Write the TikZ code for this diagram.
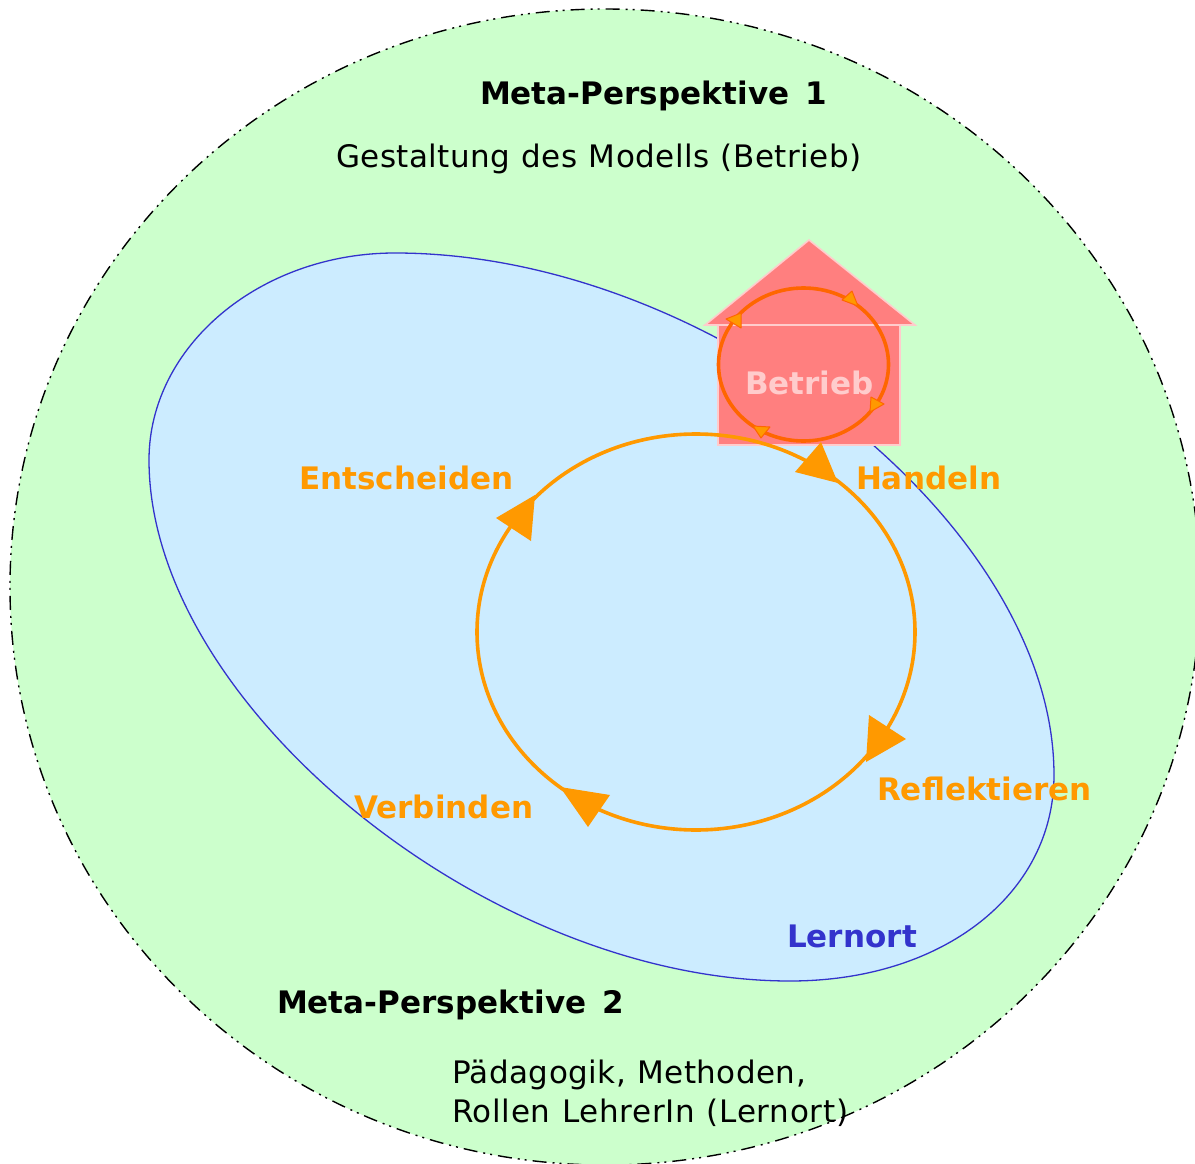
\documentclass[tikz,border=0pt]{standalone}
\usepackage{fontspec}
\setmainfont{DejaVu Sans}[LetterSpace=1.5,WordSpace=1.1,BoldFeatures={LetterSpace=0.2,WordSpace=1.45}]
\definecolor{outerfill}{HTML}{CCFFCC}
\definecolor{innerfill}{HTML}{CCECFF}
\definecolor{innerline}{HTML}{3333CC}
\definecolor{housefill}{HTML}{FF7F7F}
\definecolor{housepink}{HTML}{FFCCCC}
\definecolor{cycle}{HTML}{FF9900}
\definecolor{cycledark}{HTML}{FF6600}
\tikzset{
  outerring/.style={fill=outerfill,draw=black,line width=1.4pt,dash pattern=on 14pt off 6pt on 2pt off 5pt on 2pt off 6pt},
  innerring/.style={fill=innerfill,draw=innerline,line width=1.3pt},
  housepart/.style={fill=housefill,draw=housepink,line width=1.6pt,line join=miter},
  bigcycle/.style={draw=cycle,line width=3.6pt},
  smallcycle/.style={draw=cycledark,line width=3.6pt},
  bighead/.style={fill=cycle,draw=none},
  smallhead/.style={fill=cycle,draw=cycledark,line width=1pt,line join=round},
  lab/.style={anchor=base west,inner sep=0pt,outer sep=0pt},
  headbf/.style={lab,text=black,font=\fontsize{31}{36}\selectfont\bfseries},
  plain/.style={lab,text=black,font=\fontsize{31}{38.5}\selectfont},
  cyc/.style={lab,text=cycle,font=\fontsize{31}{36}\selectfont\bfseries}
}
\begin{document}
\begin{tikzpicture}[x=1pt,y=-1pt]
\useasboundingbox (0,0) rectangle (1195,1164);
\clip (0,0) rectangle (1195,1164);
\path[outerring] (605,587) ellipse [x radius=595,y radius=578];
\path[innerring] (149,460) .. controls (149,346) and (260,253) .. (395,253)
  .. controls (711,253) and (1054,524) .. (1054,775)
  .. controls (1054,894) and (943,981) .. (790,981)
  .. controls (489,981) and (149,705) .. (149,460) -- cycle;
\path[housepart] (718,325) rectangle (900,445);
\path[housepart] (809,240) -- (915,325) -- (705,325) -- cycle;
\node[lab,text=housepink,font=\fontsize{31}{36}\selectfont\bfseries] (betrieb) at (745,394) {Betrieb};
\draw[smallcycle] (803.5,364.5) ellipse [x radius=85,y radius=76.5];
\draw[bigcycle] (696,632) ellipse [x radius=219,y radius=198];
\path[bighead] (821,442) -- (795,472) -- (838,483) -- cycle;
\path[bighead] (535,495) -- (496,518) -- (531,541) -- cycle;
\path[bighead] (869,715) -- (906,739) -- (866,762) -- cycle;
\path[bighead] (560,787) -- (610,795) -- (588,827) -- cycle;
\path[smallhead] (852,291) -- (842,300) -- (858,306) -- cycle;
\path[smallhead] (726,319) -- (741,313) -- (741,328) -- cycle;
\path[smallhead] (871,397) -- (884,404) -- (870,412) -- cycle;
\path[smallhead] (753,426) -- (770,427) -- (761,438) -- cycle;
\node[headbf] (meta1) at (480,105) {Meta-Perspektive 1};
\node[plain] (gest) at (336,167) {Gestaltung des Modells (Betrieb)};
\node[cyc] (ent) at (299,489) {Entscheiden};
\node[cyc] (han) at (856,489) {Handeln};
\node[cyc] (ref) at (877,800) {Reflektieren};
\node[cyc] (ver) at (354,818) {Verbinden};
\node[lab,text=innerline,font=\fontsize{31}{36}\selectfont\bfseries] (lern) at (787,947) {Lernort};
\node[headbf] (meta2) at (277,1013) {Meta-Perspektive 2};
\node[plain,align=left,anchor=north west] (paed) at (452,1060) {Pädagogik, Methoden,\\\addfontfeature{LetterSpace=2.3}Rollen LehrerIn (Lernort)};
\end{tikzpicture}
\end{document}
